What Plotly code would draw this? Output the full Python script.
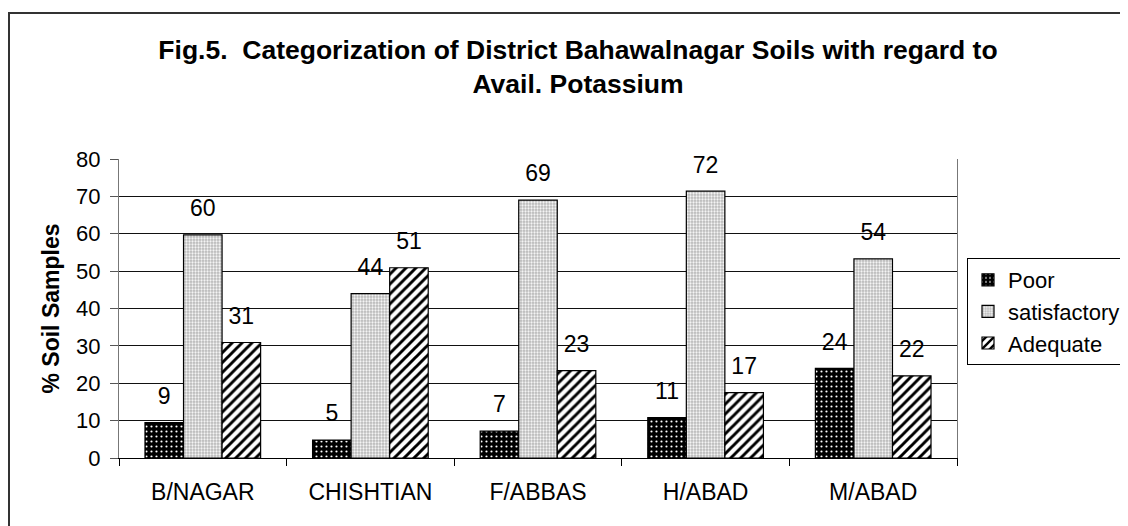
import plotly.graph_objects as go

districts = ["B/NAGAR", "CHISHTIAN", "F/ABBAS", "H/ABAD", "M/ABAD"]
poor = [9.5, 4.8, 7.2, 10.8, 24.0]
satisfactory = [59.7, 44.0, 69.0, 71.4, 53.3]
adequate = [30.9, 50.9, 23.4, 17.5, 22.0]
poor_labels = ["9", "5", "7", "11", "24"]
satisfactory_labels = ["60", "44", "69", "72", "54"]
adequate_labels = ["31", "51", "23", "17", "22"]
y_ticks = [0, 10, 20, 30, 40, 50, 60, 70, 80]

FONT = "Liberation Sans, Arial, sans-serif"

series = [
    ("Poor", poor, poor_labels, dict(shape=".", fgcolor="white", bgcolor="black", size=5, solidity=0.15)),
    ("satisfactory", satisfactory, satisfactory_labels, dict(shape=".", fgcolor="#f4f4f4", bgcolor="#b8b8b8", size=3, solidity=0.45)),
    ("Adequate", adequate, adequate_labels, dict(shape="/", fgcolor="black", bgcolor="white", size=7, solidity=0.42)),
]

fig = go.Figure()
for i, (name, vals, labels, pat) in enumerate(series):
    fig.add_trace(go.Bar(
        x=districts, y=vals, name=name, offsetgroup=str(i),
        marker=dict(color=pat["bgcolor"], pattern=dict(fillmode="replace", **pat),
                    line=dict(color="black", width=1.2)),
    ))
for i, (name, vals, labels, pat) in enumerate(series):
    fig.add_trace(go.Scatter(
        x=districts, y=vals, text=labels, mode="markers+text", offsetgroup=str(i),
        textposition="top center", marker=dict(size=19, opacity=0), cliponaxis=False,
        textfont=dict(family=FONT, size=23, color="black"),
        showlegend=False, hoverinfo="skip",
    ))

# page body adds an 8px offset; work in reference pixel coordinates
OFF = 8
W, H = 1128 - OFF, 526 - OFF
L, T = 119 - OFF, 159 - OFF
R = 1128 - 957
B = 526 - 458
pw, ph = W - L - R, H - T - B

def px_x(x):
    return (x - OFF - L) / pw

def px_y(y):
    return (H - B - (y - OFF)) / ph

fig.update_layout(
    width=W, height=H,
    margin=dict(l=L, r=R, t=T, b=B, autoexpand=False),
    paper_bgcolor="white", plot_bgcolor="white",
    barmode="group", bargap=0.31, bargroupgap=0, scattermode="group", scattergap=0.31,
    font=dict(family=FONT, size=23, color="black"),
    title=dict(
        text="<b>Fig.5.&nbsp; Categorization of District Bahawalnagar Soils with regard to<br>Avail. Potassium</b>",
        x=(578 - OFF) / W, xanchor="center", xref="container",
        y=1 - (59 - OFF) / H, yanchor="top", yref="container",
        font=dict(family=FONT, size=26.5, color="black"),
    ),
    legend=dict(
        x=px_x(967), xanchor="left", y=px_y(258), yanchor="top",
        bordercolor="black", borderwidth=1, bgcolor="white",
        font=dict(family=FONT, size=22, color="black"),
        traceorder="normal",
    ),
    xaxis=dict(
        type="category", showgrid=False, showline=True, linecolor="black", linewidth=1,
        ticks="outside", tickson="boundaries", ticklen=7, tickcolor="black",
        tickfont=dict(family=FONT, size=23), automargin=False, ticklabelstandoff=13,
    ),
    yaxis=dict(
        range=[0, 80], tickvals=y_ticks, showgrid=True, gridcolor="#111111", gridwidth=1,
        showline=True, linecolor="#777777", linewidth=1, mirror=True,
        ticks="outside", ticklen=8, tickcolor="#555555", ticklabelstandoff=5,
        tickfont=dict(family=FONT, size=22), zeroline=False, automargin=False,
        title=dict(text="<b>% Soil Samples</b>", font=dict(family=FONT, size=23), standoff=10),
    ),
    shapes=[dict(
        type="rect", xref="paper", yref="paper",
        x0=px_x(9), x1=px_x(1140), y0=px_y(540), y1=px_y(13),
        line=dict(color="#333333", width=2), fillcolor="rgba(0,0,0,0)", layer="below",
    )],
)

fig.write_html("out.html")
